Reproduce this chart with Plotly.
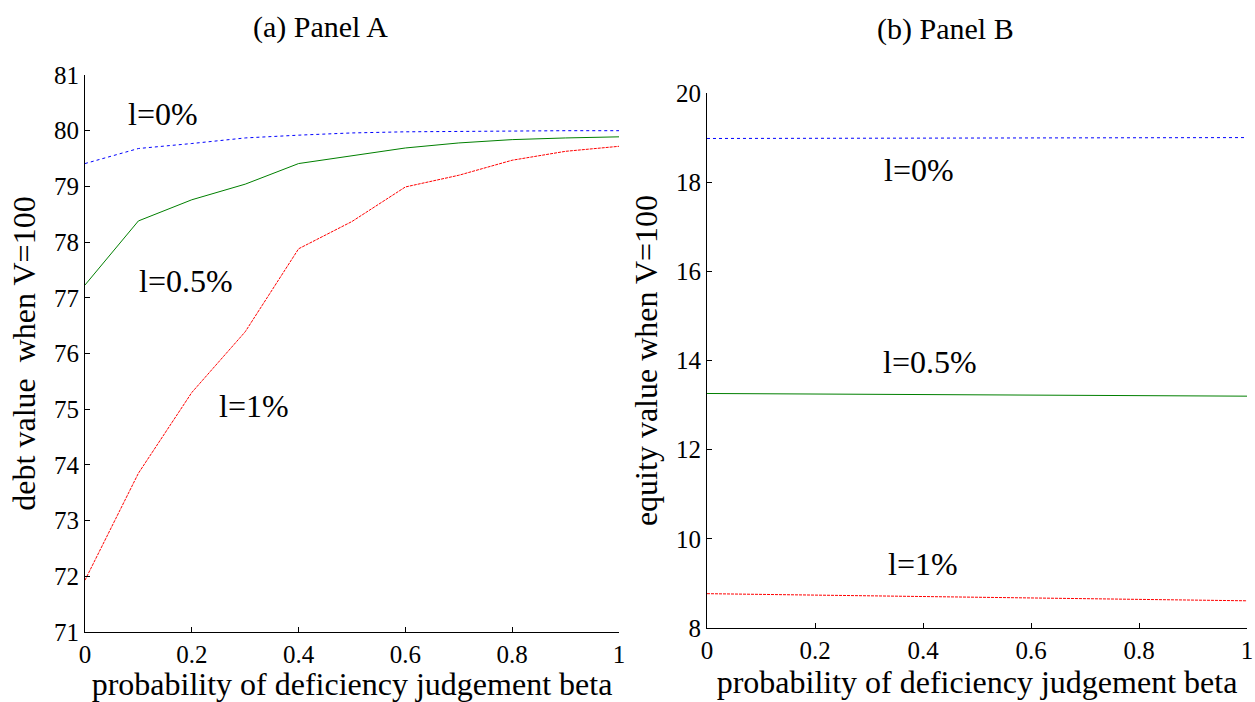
import plotly.graph_objects as go

beta = [0, 0.1, 0.2, 0.3, 0.4, 0.5, 0.6, 0.7, 0.8, 0.9, 1.0]

debt_l0 = [79.41, 79.68, 79.77, 79.87, 79.92, 79.96, 79.98, 79.99, 79.99, 80.0, 80.0]
debt_l05 = [77.23, 78.38, 78.76, 79.04, 79.41, 79.55, 79.69, 79.78, 79.84, 79.87, 79.89]
debt_l1 = [71.93, 73.85, 75.30, 76.39, 77.88, 78.37, 78.99, 79.20, 79.47, 79.63, 79.72]

beta_b = [0, 1.0]
equity_l0 = [18.98, 19.0]
equity_l05 = [13.26, 13.20]
equity_l1 = [8.77, 8.61]

xtick_vals = [0, 0.2, 0.4, 0.6, 0.8, 1]
xtick_text = ["0", "0.2", "0.4", "0.6", "0.8", "1"]
ytick_a = [71, 72, 73, 74, 75, 76, 77, 78, 79, 80, 81]
ytick_b = [8, 10, 12, 14, 16, 18, 20]

FONT = "Liberation Serif"
BLUE = "#0000ff"
GREEN = "#007f00"
RED = "#ff0000"

fig = go.Figure()

fig.add_trace(go.Scatter(x=beta, y=debt_l0, mode="lines", line=dict(color=BLUE, width=1, dash="dot"),
                         xaxis="x", yaxis="y", showlegend=False))
fig.add_trace(go.Scatter(x=beta, y=debt_l05, mode="lines", line=dict(color=GREEN, width=1),
                         xaxis="x", yaxis="y", showlegend=False))
fig.add_trace(go.Scatter(x=beta, y=debt_l1, mode="lines", line=dict(color=RED, width=1, dash="3px,1px"),
                         xaxis="x", yaxis="y", showlegend=False))

fig.add_trace(go.Scatter(x=beta_b, y=equity_l0, mode="lines", line=dict(color=BLUE, width=1, dash="dot"),
                         xaxis="x2", yaxis="y2", showlegend=False))
fig.add_trace(go.Scatter(x=beta_b, y=equity_l05, mode="lines", line=dict(color=GREEN, width=1),
                         xaxis="x2", yaxis="y2", showlegend=False))
fig.add_trace(go.Scatter(x=beta_b, y=equity_l1, mode="lines", line=dict(color=RED, width=1, dash="3px,1px"),
                         xaxis="x2", yaxis="y2", showlegend=False))

W, H = 1255, 702

def px_x(p):
    return p / W

def px_y(p):
    return 1 - p / H

axis_common = dict(
    showline=True, linecolor="black", linewidth=1, mirror=False, automargin=False,
    ticks="inside", ticklen=5, tickcolor="black", showgrid=False, zeroline=False,
    tickfont=dict(family=FONT, size=25, color="black"),
)
TITLE_FONT = dict(family=FONT, size=32, color="black")

fig.update_layout(
    width=W, height=H,
    margin=dict(l=0, r=0, t=0, b=0, autoexpand=False),
    paper_bgcolor="white", plot_bgcolor="white",
    font=dict(family=FONT, color="black"),
    xaxis=dict(domain=[px_x(85), px_x(619)], range=[0, 1], tickvals=xtick_vals, ticktext=xtick_text,
               anchor="y", title=dict(text="probability of deficiency judgement beta",
                                       font=TITLE_FONT, standoff=4),
               **axis_common),
    yaxis=dict(domain=[px_y(632), px_y(75)], range=[71, 81], tickvals=ytick_a, anchor="x",
               title=dict(text="debt value  when V=100", font=TITLE_FONT, standoff=8),
               **axis_common),
    xaxis2=dict(domain=[px_x(707), px_x(1247)], range=[0, 1], tickvals=xtick_vals, ticktext=xtick_text,
                anchor="y2", title=dict(text="probability of deficiency judgement beta",
                                         font=TITLE_FONT, standoff=4),
                **axis_common),
    yaxis2=dict(domain=[px_y(628), px_y(93)], range=[8, 20], tickvals=ytick_b, anchor="x2",
                title=dict(text="equity value when V=100", font=TITLE_FONT, standoff=8),
                **axis_common),
)

ann_font = dict(family=FONT, size=32, color="black")
labels = [
    ("x", "y", 0.146, 80.30, "l=0%"),
    ("x", "y", 0.189, 77.30, "l=0.5%"),
    ("x", "y", 0.316, 75.06, "l=1%"),
    ("x2", "y2", 0.393, 18.27, "l=0%"),
    ("x2", "y2", 0.413, 13.97, "l=0.5%"),
    ("x2", "y2", 0.40, 9.44, "l=1%"),
]
for xr, yr, xv, yv, t in labels:
    fig.add_annotation(x=xv, y=yv, xref=xr, yref=yr, text=t, showarrow=False, font=ann_font,
                       xanchor="center", yanchor="middle")

fig.add_annotation(x=px_x(320), y=px_y(27), xref="paper", yref="paper", text="(a) Panel A",
                   xanchor="center", yanchor="middle",
                   showarrow=False, font=dict(family=FONT, size=30, color="black"))
fig.add_annotation(x=px_x(945), y=px_y(29), xref="paper", yref="paper", text="(b) Panel B",
                   xanchor="center", yanchor="middle",
                   showarrow=False, font=dict(family=FONT, size=30, color="black"))

fig.write_html(
    "out.html",
    config={"displayModeBar": False},
    post_script="document.body.style.margin='0';document.body.style.overflow='hidden';",
)
